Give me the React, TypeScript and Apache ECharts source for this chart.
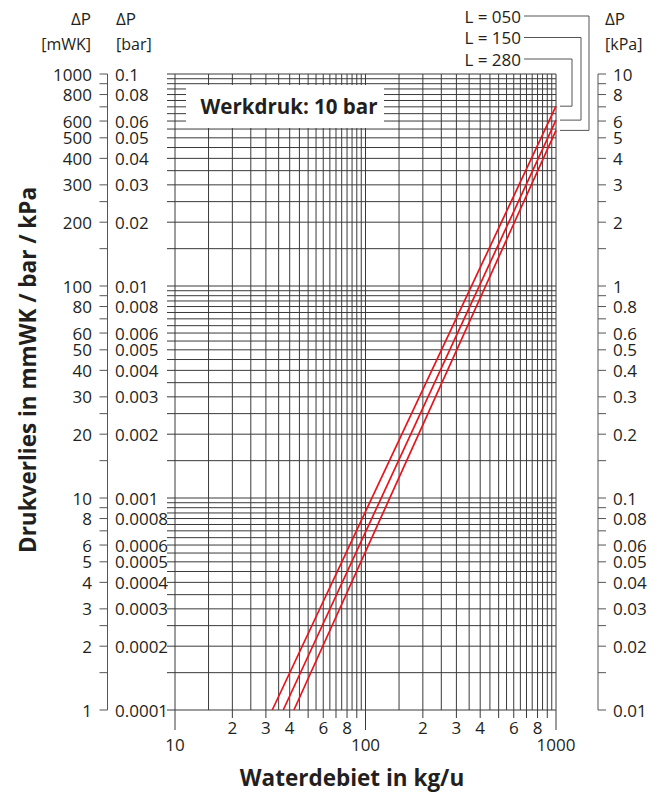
import React, { useEffect, useRef } from "react";
import * as echarts from "echarts";

const FONT = "'Open Sans', 'Noto Sans', sans-serif";
const INK = "#231f20";
const GRID = "#3a3a3a";
const RED = "#e8141c";

// axis extents
const flowRange = [10, 1000]; // kg/u
const dpRange = [1, 1000]; // mmWK

// grid lines inside each decade (multiples)
const gridSteps = [1, 1.5, 2, 2.5, 3, 3.5, 4, 4.5, 5, 5.5, 6, 6.5, 7, 7.5, 8, 8.5, 9, 9.5];
const gridDecadesX = [10, 100];
const gridDecadesY = [1, 10, 100];

// ticks on the pressure scales
const scaleTickSteps = [1, 1.5, 2, 2.5, 3, 4, 5, 6, 7, 8, 9];

// bottom axis ticks
const flowTicksLong = [10, 100, 1000];
const flowTicksShort = [20, 30, 40, 50, 60, 70, 80, 90, 200, 300, 400, 500, 600, 700, 800, 900];

// bottom axis labels
const flowMinorLabelValues = [20, 30, 40, 60, 80, 200, 300, 400, 600, 800];
const flowMinorLabels = ["2", "3", "4", "6", "8", "2", "3", "4", "6", "8"];
const flowMajorLabelValues = [10, 100, 1000];
const flowMajorLabels = ["10", "100", "1000"];

// pressure scale labels
const dpLabelValues = [1, 2, 3, 4, 5, 6, 8, 10, 20, 30, 40, 50, 60, 80, 100, 200, 300, 400, 500, 600, 800, 1000];
const mmwkLabels = ["1", "2", "3", "4", "5", "6", "8", "10", "20", "30", "40", "50", "60", "80", "100", "200", "300", "400", "500", "600", "800", "1000"];
const barLabels = ["0.0001", "0.0002", "0.0003", "0.0004", "0.0005", "0.0006", "0.0008", "0.001", "0.002", "0.003", "0.004", "0.005", "0.006", "0.008", "0.01", "0.02", "0.03", "0.04", "0.05", "0.06", "0.08", "0.1"];
const kpaLabels = ["0.01", "0.02", "0.03", "0.04", "0.05", "0.06", "0.08", "0.1", "0.2", "0.3", "0.4", "0.5", "0.6", "0.8", "1", "2", "3", "4", "5", "6", "8", "10"];

// curves (flow kg/u -> pressure loss mmWK)
const curveNames = ["L = 050", "L = 150", "L = 280"];
const flowL050 = [42.1, 1000];
const dpL050 = [1, 542];
const flowL150 = [37.0, 1000];
const dpL150 = [1, 606];
const flowL280 = [32.4, 1000];
const dpL280 = [1, 705];

const near = (a: number, list: number[]) => list.some((v) => Math.abs(v - a) < 1e-6 * Math.max(1, v));

export default function App() {
  const ref = useRef<HTMLDivElement>(null);

  useEffect(() => {
    if (!ref.current) return;
    const chart = echarts.init(ref.current, null, { renderer: "svg" });

    const xGridValues = gridDecadesX.flatMap((d) => gridSteps.map((s) => s * d)).concat([flowRange[1]]);
    const yGridValues = gridDecadesY.flatMap((d) => gridSteps.map((s) => s * d)).concat([dpRange[1]]);
    const scaleTicks = gridDecadesY.flatMap((d) => scaleTickSteps.map((s) => s * d)).concat([dpRange[1]]);

    const txt = (x: number, y: number, text: string, align: string, size = 17, weight: any = "normal") => ({
      type: "text",
      x,
      y,
      style: {
        text,
        fill: INK,
        fontSize: size,
        fontFamily: FONT,
        fontWeight: weight,
        align,
        textAlign: align,
        verticalAlign: "middle",
        textVerticalAlign: "middle",
      },
    });

    const curves = [
      { name: curveNames[0], flow: flowL050, dp: dpL050 },
      { name: curveNames[1], flow: flowL150, dp: dpL150 },
      { name: curveNames[2], flow: flowL280, dp: dpL280 },
    ];

    const option: any = {
      animation: false,
      backgroundColor: "#fff",
      grid: { left: 175, top: 74, width: 381, height: 636 },
      xAxis: {
        type: "log",
        logBase: 10,
        min: flowRange[0],
        max: flowRange[1],
        axisLine: { show: false },
        axisTick: { show: false },
        axisLabel: { show: false },
        splitLine: { show: false },
      },
      yAxis: {
        type: "log",
        logBase: 10,
        min: dpRange[0],
        max: dpRange[1],
        axisLine: { show: false },
        axisTick: { show: false },
        axisLabel: { show: false },
        splitLine: { show: false },
      },
      series: [
        {
          type: "custom",
          name: "vgrid",
          silent: true,
          z: 1,
          data: xGridValues.map((v) => [v, dpRange[0]]),
          renderItem: (params: any, api: any) => {
            const x = api.value(0);
            const top = api.coord([x, dpRange[1]]);
            const bot = api.coord([x, dpRange[0]]);
            let ext = 0;
            if (near(x, flowTicksLong)) ext = 20;
            else if (near(x, flowTicksShort)) ext = 8;
            return {
              type: "line",
              shape: { x1: top[0], y1: top[1], x2: bot[0], y2: bot[1] + ext },
              style: { stroke: GRID, lineWidth: 1 },
            };
          },
        },
        {
          type: "custom",
          name: "hgrid",
          silent: true,
          z: 1,
          data: yGridValues.map((v) => [flowRange[0], v]),
          renderItem: (params: any, api: any) => {
            const y = api.value(1);
            const l = api.coord([flowRange[0], y]);
            const r = api.coord([flowRange[1], y]);
            return {
              type: "line",
              shape: { x1: l[0] - 8, y1: l[1], x2: r[0], y2: r[1] },
              style: { stroke: GRID, lineWidth: 1 },
            };
          },
        },
        {
          type: "custom",
          name: "scaleLines",
          silent: true,
          z: 1,
          data: [[flowRange[0], dpRange[0]]],
          renderItem: (params: any, api: any) => {
            const lb = api.coord([flowRange[0], dpRange[0]]);
            const lt = api.coord([flowRange[0], dpRange[1]]);
            const rb = api.coord([flowRange[1], dpRange[0]]);
            return {
              type: "group",
              children: [
                { type: "line", shape: { x1: lb[0] - 67.5, y1: lt[1], x2: lb[0] - 67.5, y2: lb[1] }, style: { stroke: "#555", lineWidth: 1 } },
                { type: "line", shape: { x1: rb[0] + 42, y1: lt[1], x2: rb[0] + 42, y2: rb[1] }, style: { stroke: "#555", lineWidth: 1 } },
              ],
            };
          },
        },
        {
          type: "custom",
          name: "scaleTicks",
          silent: true,
          z: 1,
          data: scaleTicks.map((v) => [flowRange[0], v]),
          renderItem: (params: any, api: any) => {
            const y = api.value(1);
            const l = api.coord([flowRange[0], y]);
            const r = api.coord([flowRange[1], y]);
            return {
              type: "group",
              children: [
                { type: "line", shape: { x1: l[0] - 75.5, y1: l[1], x2: l[0] - 67.5, y2: l[1] }, style: { stroke: "#555", lineWidth: 1 } },
                { type: "line", shape: { x1: r[0] + 42, y1: r[1], x2: r[0] + 50, y2: r[1] }, style: { stroke: "#555", lineWidth: 1 } },
              ],
            };
          },
        },
        {
          type: "custom",
          name: "scaleLabels",
          silent: true,
          z: 3,
          data: dpLabelValues.map((v) => [flowRange[0], v]),
          renderItem: (params: any, api: any) => {
            const i = params.dataIndex;
            const y = api.value(1);
            const l = api.coord([flowRange[0], y]);
            const r = api.coord([flowRange[1], y]);
            return {
              type: "group",
              children: [
                txt(l[0] - 83, l[1], mmwkLabels[i], "right"),
                txt(l[0] - 60, l[1], barLabels[i], "left"),
                txt(r[0] + 57, r[1], kpaLabels[i], "left"),
              ],
            };
          },
        },
        {
          type: "custom",
          name: "flowMinorLabels",
          silent: true,
          z: 3,
          data: flowMinorLabelValues.map((v) => [v, dpRange[0]]),
          renderItem: (params: any, api: any) => {
            const p = api.coord([api.value(0), dpRange[0]]);
            return txt(p[0], p[1] + 17, flowMinorLabels[params.dataIndex], "center");
          },
        },
        {
          type: "custom",
          name: "flowMajorLabels",
          silent: true,
          z: 3,
          data: flowMajorLabelValues.map((v) => [v, dpRange[0]]),
          renderItem: (params: any, api: any) => {
            const p = api.coord([api.value(0), dpRange[0]]);
            return txt(p[0], p[1] + 34, flowMajorLabels[params.dataIndex], "center");
          },
        },
        ...curves.map((c) => ({
          type: "line",
          name: c.name,
          z: 10,
          silent: true,
          symbol: "none",
          lineStyle: { color: RED, width: 1.7 },
          data: c.flow.map((f, i) => [f, c.dp[i]]),
        })),
      ],
    };

    chart.setOption(option);

    // connectors from legend labels to curve ends
    const ends = curves.map((c) =>
      chart.convertToPixel({ gridIndex: 0 }, [c.flow[c.flow.length - 1], c.dp[c.dp.length - 1]]) as number[]
    );
    const labelY = [16, 37.5, 59];
    const bendX = [589, 581, 572];
    const connectors: any[] = [];
    curves.forEach((c, i) => {
      connectors.push(txt(521, labelY[i], c.name, "right"));
      connectors.push({
        type: "polyline",
        z: 20,
        shape: {
          points: [
            [524, labelY[i]],
            [bendX[i], labelY[i]],
            [bendX[i], ends[i][1]],
            [ends[i][0] + 4, ends[i][1]],
          ],
        },
        style: { stroke: "#555", lineWidth: 1, fill: "none" },
      });
    });

    chart.setOption({
      graphic: {
        elements: [
          { type: "rect", z: 15, shape: { x: 186, y: 85, width: 198, height: 43 }, style: { fill: "#fff" } },
          { ...txt(289, 106, "Werkdruk: 10 bar", "center", 20.5, "bold"), z: 16 },
          txt(91, 18, "ΔP", "right"),
          txt(91, 44, "[mWK]", "right", 16),
          txt(116, 18, "ΔP", "left"),
          txt(116, 44, "[bar]", "left", 16),
          txt(605, 18, "ΔP", "left"),
          txt(605, 44, "[kPa]", "left", 16),
          ...connectors,
          { ...txt(352, 777, "Waterdebiet in kg/u", "center", 22.5, "bold") },
          { ...txt(27, 370, "Drukverlies in mmWK / bar / kPa", "center", 22.5, "bold"), rotation: Math.PI / 2 },
        ],
      },
    });

    return () => chart.dispose();
  }, []);

  return (
    <div
      ref={ref}
      style={{ position: "absolute", left: 0, top: 0, width: 660, height: 797, background: "#fff" }}
    />
  );
}
